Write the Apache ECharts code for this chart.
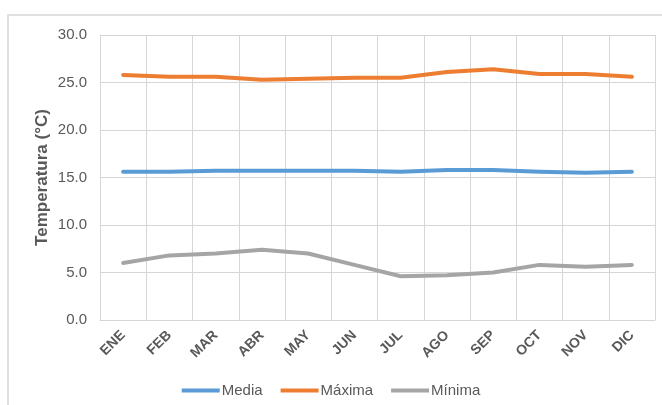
<!DOCTYPE html>
<html>
<head>
<meta charset="utf-8">
<script src="https://cdn.jsdelivr.net/npm/echarts@6/dist/echarts.min.js"></script>
<style>
  html, body { margin: 0; padding: 0; background: #ffffff; }
  #chart { width: 662px; height: 405px; }
</style>
</head>
<body>
<div id="chart"></div>
<script>
// Monthly temperatures (°C)
const months = ['ENE', 'FEB', 'MAR', 'ABR', 'MAY', 'JUN', 'JUL', 'AGO', 'SEP', 'OCT', 'NOV', 'DIC'];
const media  = [15.6, 15.6, 15.7, 15.7, 15.7, 15.7, 15.6, 15.8, 15.8, 15.6, 15.5, 15.6];
const maxima = [25.8, 25.6, 25.6, 25.3, 25.4, 25.5, 25.5, 26.1, 26.4, 25.9, 25.9, 25.6];
const minima = [6.0, 6.8, 7.0, 7.4, 7.0, 5.8, 4.6, 4.7, 5.0, 5.8, 5.6, 5.8];

const FONT = '"Liberation Sans", Arial, sans-serif';
const TEXT = '#595959';
const GRID = '#d6d6d6';

const chart = echarts.init(document.getElementById('chart'), null, { renderer: 'canvas' });

function lineSeries(name, data, color) {
  return {
    name: name,
    type: 'line',
    data: data,
    symbol: 'none',
    showSymbol: false,
    lineStyle: { color: color, width: 4, cap: 'round', join: 'round' },
    itemStyle: { color: color },
    emphasis: { disabled: true }
  };
}

chart.setOption({
  animation: false,
  backgroundColor: '#ffffff',
  graphic: [{
    type: 'rect',
    shape: { x: 8, y: 15, width: 700, height: 420 },
    style: { fill: 'none', stroke: GRID, lineWidth: 1.5 },
    silent: true,
    z: -1
  }],
  grid: { left: 100, right: 7, top: 35, bottom: 85, containLabel: false },
  legend: {
    bottom: 2,
    left: 'center',
    itemWidth: 38,
    itemHeight: 4,
    itemGap: 18,
    icon: 'rect',
    textStyle: { color: TEXT, fontFamily: FONT, fontSize: 15, padding: [0, 0, 0, -3] },
    data: ['Media', 'Máxima', 'Mínima']
  },
  xAxis: {
    type: 'category',
    data: months,
    boundaryGap: true,
    axisLine: { show: true, lineStyle: { color: GRID, width: 1 } },
    axisTick: { show: false },
    splitLine: { show: true, lineStyle: { color: GRID, width: 1 } },
    axisLabel: {
      rotate: 45,
      margin: 13,
      color: TEXT,
      fontFamily: FONT,
      fontSize: 14,
      fontWeight: 'bold',
      interval: 0
    }
  },
  yAxis: {
    type: 'value',
    min: 0,
    max: 30,
    interval: 5,
    name: 'Temperatura (°C)',
    nameLocation: 'middle',
    nameGap: 49,
    nameMoveOverlap: false,
    nameTextStyle: { color: TEXT, fontFamily: FONT, fontSize: 17, fontWeight: 'bold' },
    axisLine: { show: true, lineStyle: { color: GRID, width: 1 } },
    axisTick: { show: false },
    splitLine: { show: true, lineStyle: { color: GRID, width: 1 } },
    axisLabel: {
      margin: 13,
      color: TEXT,
      fontFamily: FONT,
      fontSize: 15,
      formatter: v => v.toFixed(1)
    }
  },
  series: [
    lineSeries('Media', media, '#5b9bd5'),
    lineSeries('Máxima', maxima, '#ed7d31'),
    lineSeries('Mínima', minima, '#a5a5a5')
  ]
});
</script>
</body>
</html>
